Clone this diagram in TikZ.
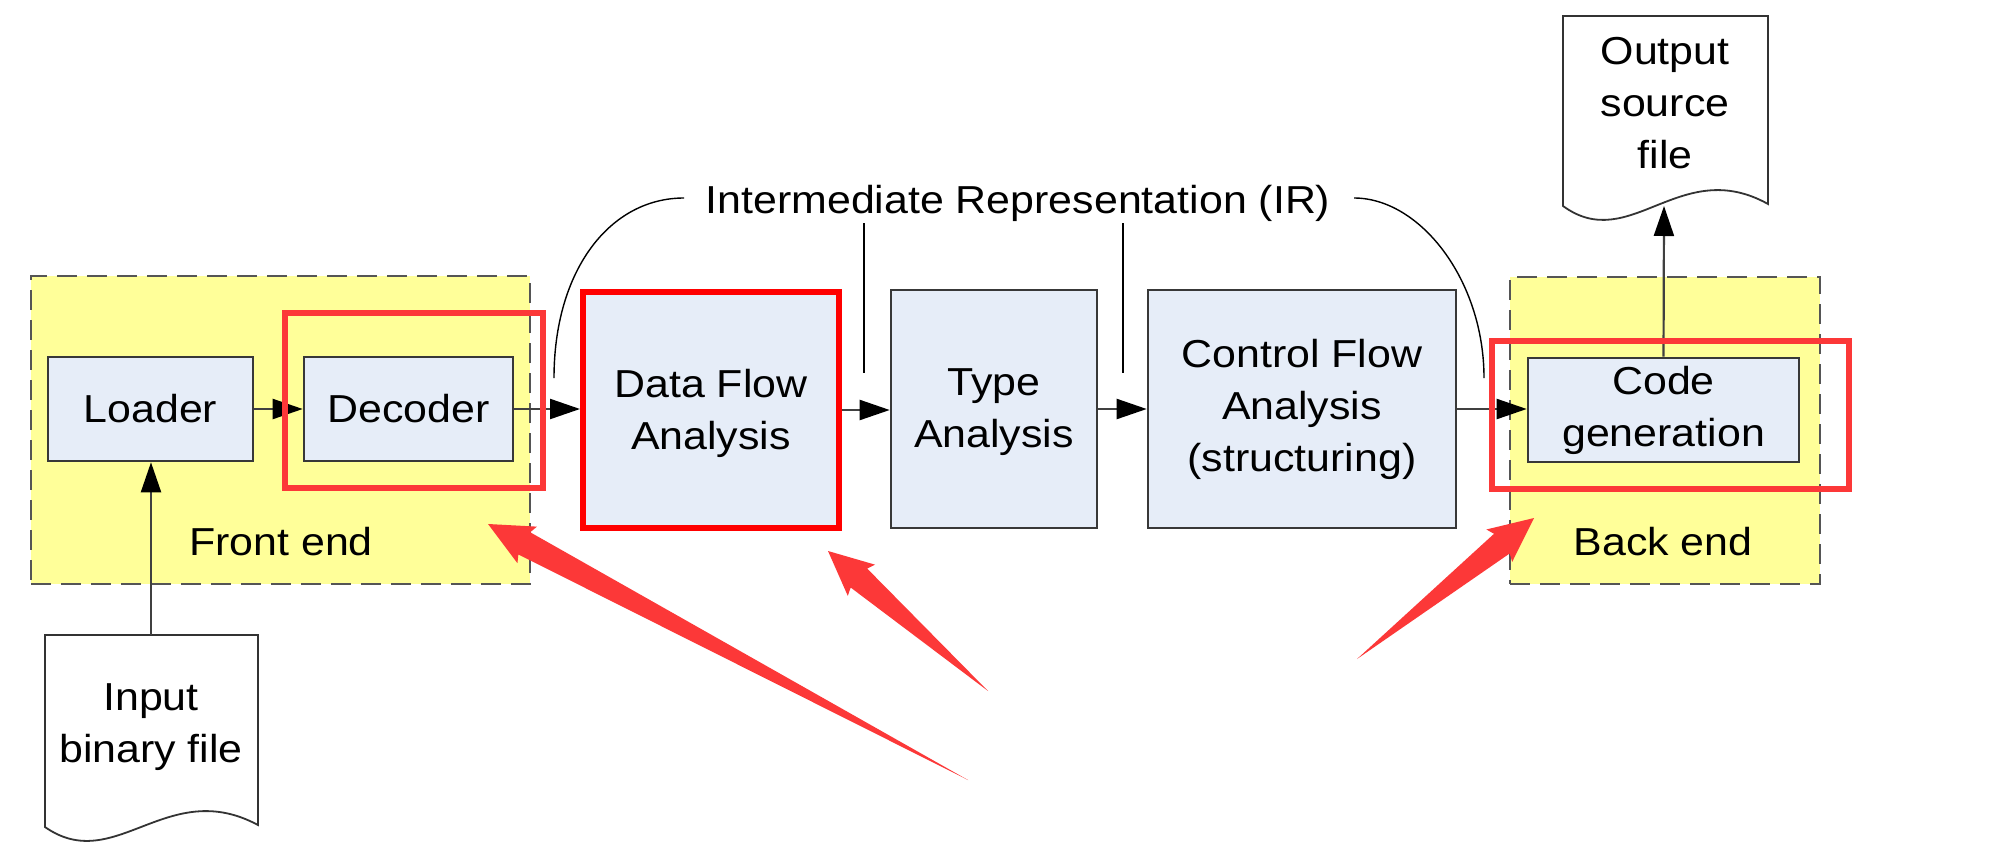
\documentclass[tikz,border=0pt]{standalone}
\usepackage{fontspec}
\setmainfont{Liberation Sans}[FakeStretch=1.1]
\usetikzlibrary{calc,fit,arrows.meta}
\definecolor{boxfill}{RGB}{230,237,248}
\definecolor{yel}{RGB}{255,255,153}
\definecolor{mred}{RGB}{252,56,56}
\definecolor{dashgray}{RGB}{85,85,85}
\newcommand\markarrow[2]{%
  \fill[mred] (#1) -- ($(#1)!24.5pt!25:(#2)$) -- ($(#1)!21.5pt!17:(#2)$) -- (#2)
    -- ($(#1)!21.5pt!-17:(#2)$) -- ($(#1)!24.5pt!-25:(#2)$) -- cycle;}
\begin{document}
\begin{tikzpicture}[x=0.5pt,y=-0.5pt,
  every node/.style={font=\fontsize{19.5}{26}\selectfont, align=center},
  stage/.style={draw=black!78, line width=1.3pt, fill=boxfill, inner sep=0pt},
  group/.style={fill=yel, draw=dashgray, line width=1pt, dash pattern=on 10pt off 5pt, inner sep=0pt},
  hl/.style={draw=mred, line width=3pt, inner sep=0pt},
  arr/.style={-{Triangle[length=15pt,width=10pt,color=black]}, line width=1.1pt, draw=black!75},
  irline/.style={line width=0.7pt, draw=black},
  docline/.style={line width=0.9pt, draw=black!80, fill=white}
]
\useasboundingbox[fill=white] (0,0) rectangle (2000,862);

% groups
\node[group, fit={(31,276) (530,584)}] (front) {};
\node[group, fit={(1510,277) (1820,584)}] (back) {};
\node (frontlbl) at (281,542) {Front end};
\node (backlbl) at (1663,542) {Back end};

% stages
\node[stage, fit={(48,357) (253,461)}] (loader) {};
\node[stage, fit={(304,357) (513,461)}] (decoder) {};
\node[stage, draw=red, line width=3pt, fit={(583,292) (839,528)}] (dfa) {};
\node[stage, fit={(891,290) (1097,528)}] (type) {};
\node[stage, fit={(1148,290) (1456,528)}] (cfa) {};
\node[stage, fit={(1528,358) (1799,462)}] (codegen) {};
\node (loadertxt) at (loader.center) {Loader};
\node (decodertxt) at (decoder.center) {Decoder};
\node (dfatxt) at ($(dfa.center)+(0,3)$) {Data Flow\\Analysis};
\node (typetxt) at ($(type.center)+(0,3)$) {Type\\Analysis};
\node (cfatxt) at (cfa.center) {Control Flow\\Analysis\\(structuring)};
\node (codegentxt) at (codegen.center) {Code\\generation};

% documents
\draw[docline] (45,827) -- (45,635) -- (258,635) -- (258,825)
  .. controls (167,776) and (115,876) .. (45,827) -- cycle;
\node (indoc) at (151,727) {Input\\binary file};
\draw[docline] (1563,206) -- (1563,16) -- (1768,16) -- (1768,204)
  .. controls (1680,155) and (1630,255) .. (1563,206) -- cycle;
\node (outdoc) at (1665,103) {Output\\source\\file};
\coordinate (intop) at (151,635);
\coordinate (outbot) at (1664,206);

% flow arrows
\draw[arr] (loader.east) -- (decoder.west);
\draw[arr] (decoder.east) -- (decoder.east -| dfa.west);
\draw[arr] (dfa.east) -- (dfa.east -| type.west);
\draw[arr] (type.east) -- (type.east -| cfa.west);
\draw[arr] (cfa.east) -- (cfa.east -| codegen.west);
\draw[arr] (intop) -- (intop |- loader.south);
\draw[arr] (codegen.north) -- (outbot);

% IR label and brackets
\node[inner sep=10pt] (ir) at (1018,203) {Intermediate Representation (IR)};
\coordinate (irLs) at (684,198);
\coordinate (irRs) at (1354,198);
\coordinate (irL) at (554,378);
\coordinate (irR) at (1484,378);
\coordinate (t1a) at (864,223); \coordinate (t1b) at (864,373);
\coordinate (t2a) at (1123,223); \coordinate (t2b) at (1123,373);
\draw[irline] (irLs) .. controls (610,198) and (554,270) .. (irL);
\draw[irline] (irRs) .. controls (1420,198) and (1484,280) .. (irR);
\draw[irline] (t1a) -- (t1b);
\draw[irline] (t2a) -- (t2b);

% highlight boxes
\node[hl, fit={(285,313) (543,488)}] (hldec) {};
\node[hl, fit={(1492,341) (1849,489)}] (hlcode) {};

% markup arrows
\coordinate (a1tip) at (488,524); \coordinate (a1tail) at (968,780);
\coordinate (a2tip) at (828,551); \coordinate (a2tail) at (988,691);
\coordinate (a3tip) at (1534,518); \coordinate (a3tail) at (1357,659);
\markarrow{a1tip}{a1tail}
\markarrow{a2tip}{a2tail}
\markarrow{a3tip}{a3tail}
\end{tikzpicture}
\end{document}
